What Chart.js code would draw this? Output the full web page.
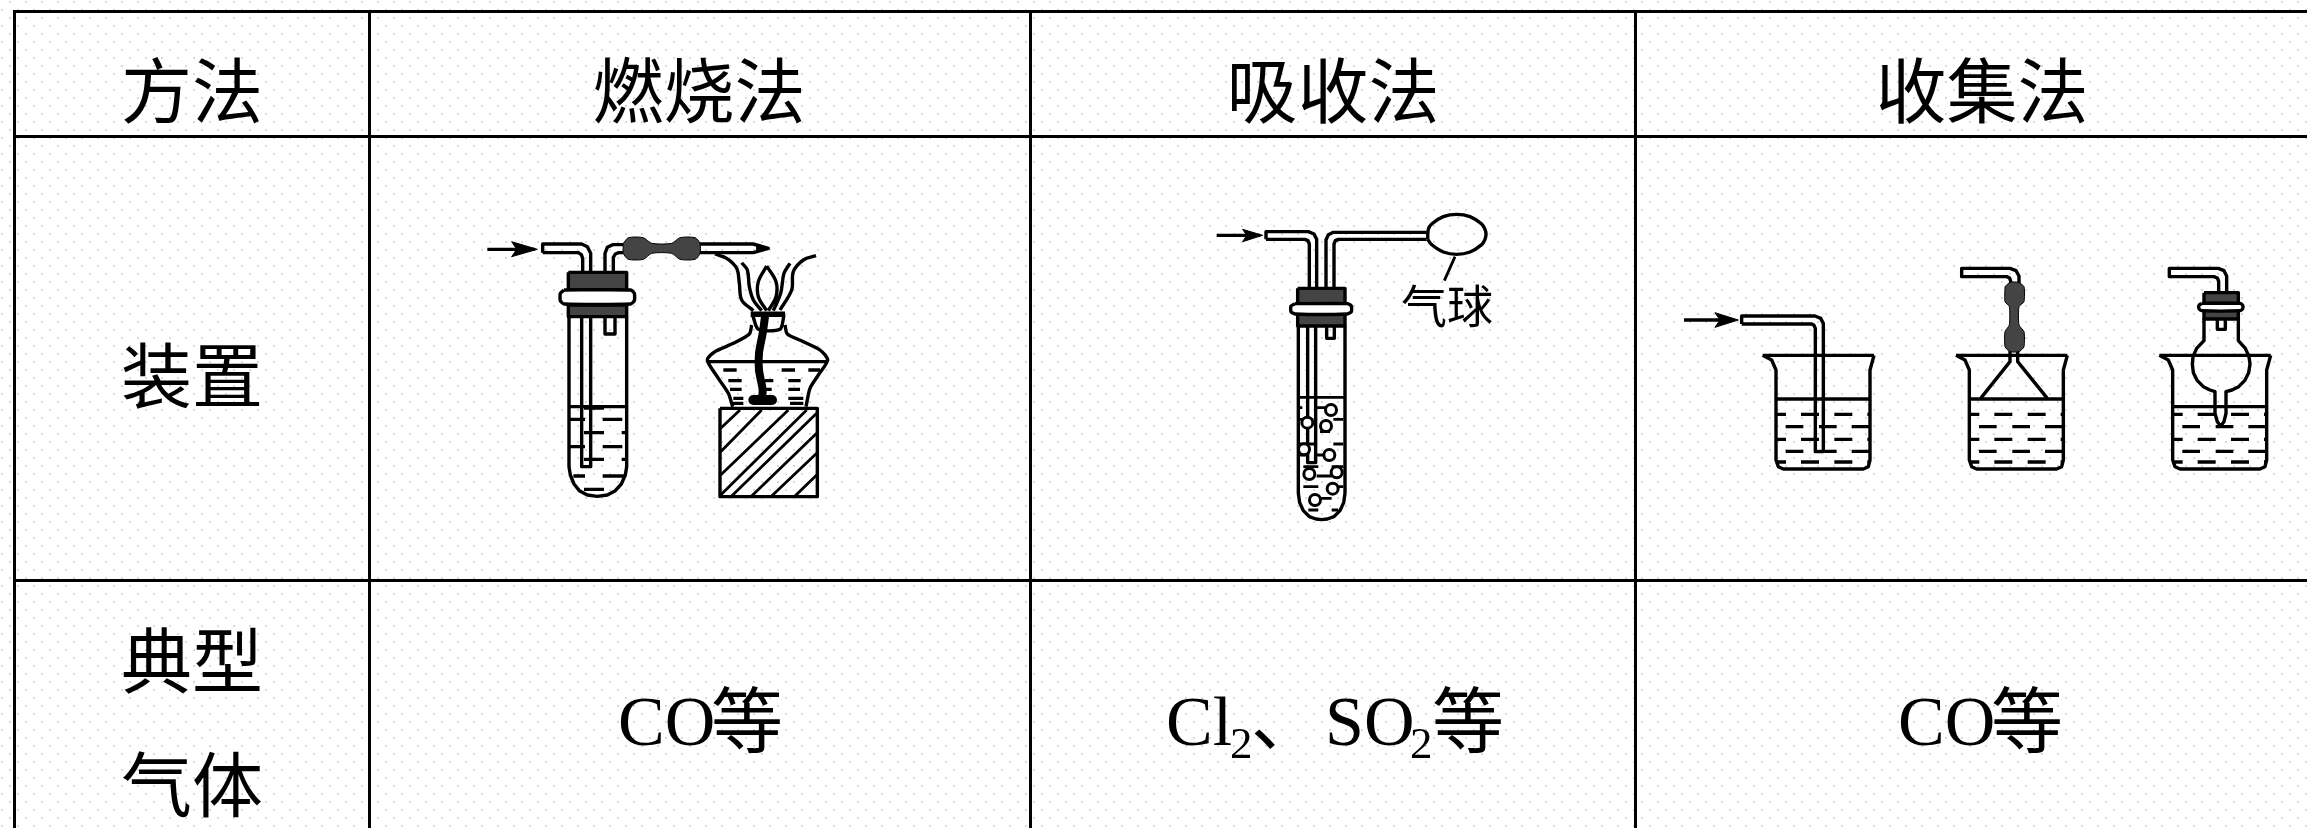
<!DOCTYPE html>
<html lang="zh">
<head>
<meta charset="utf-8">
<title>气体收集方法</title>
<script src="https://cdn.jsdelivr.net/npm/chart.js@4"></script>
<style>
  html, body { margin: 0; padding: 0; background-color: #fff; }
  body {
    width: 2307px; height: 828px; overflow: hidden;
    background-image: url("data:image/svg+xml,%3Csvg xmlns='http://www.w3.org/2000/svg' width='16' height='16'%3E%3Crect x='9' y='1' width='2' height='2' fill='%23d9d9d9'/%3E%3Crect x='1' y='9' width='2' height='2' fill='%23d9d9d9'/%3E%3C/svg%3E");
  }
  canvas { display: block; }
</style>
</head>
<body>
<canvas id="chartTable" width="2307" height="828"></canvas>
<script>
/* --------------------------------------------
   Table text and rules (axis units = pixels)
--------------------------------------------- */
const columnLines = [14.5, 369.5, 1030.5, 1635.5];
const rowLines = [11.5, 136.5, 580.5];

const headerLabels = ["方法", "燃烧法", "吸收法", "收集法"];
const headerX = [192, 699, 1333, 1982];
const headerY = 90;

const sideLabels = ["装置", "典型", "气体"];
const sideX = 192;
const sideY = [375, 660, 784];

const gasRuns = [
  ["CO", 618, 745, 70], ["等", 711, 747, 72],
  ["Cl", 1166, 745, 70], ["2", 1230, 758, 45], ["、", 1251, 745, 70],
  ["SO", 1325, 745, 70], ["2", 1410, 758, 45], ["等", 1432, 747, 72],
  ["CO", 1898, 745, 70], ["等", 1991, 747, 72]
];
const balloonLabel = ["气球", 1447, 306, 46];

/* -------------------------
   Each list is x,y,x,y... in crop units.
------------------------- */
// burner method, crop at 460,210
const burnArrowLine = [[82, 118, 225, 118]];
const burnArrowHead = [155, 95, 232, 118, 155, 140, 170, 118, 155, 95];
const burnTubes = [
  [248, 128, 248, 102, 365, 102, 382, 110, 392, 130, 392, 190],
  [248, 128, 355, 128, 364, 134, 368, 145, 368, 190],
  [435, 190, 435, 130, 442, 112, 458, 104, 490, 104],
  [460, 190, 460, 142, 466, 132, 476, 128, 490, 128],
  [720, 102, 880, 102, 925, 115, 880, 128, 720, 128],
  [365, 320, 365, 770, 392, 770, 392, 320],
  [435, 320, 435, 372, 465, 372, 465, 320],
  [327, 320, 327, 770, 331, 795, 342, 822, 358, 842, 382, 855, 412, 859, 442, 855, 466, 842, 484, 822, 496, 795, 500, 770, 500, 320]
];
const burnLiquid = [
  [330, 590, 497, 590], [372, 594, 432, 594],
  [330, 628, 375, 628], [428, 628, 487, 628],
  [372, 668, 432, 668], [485, 668, 497, 668],
  [330, 710, 375, 710], [428, 710, 487, 710],
  [372, 748, 432, 748], [485, 748, 497, 748],
  [340, 798, 375, 798], [428, 798, 492, 798],
  [372, 838, 432, 838]
];
const burnStopperTop = [325, 187, 500, 187, 500, 240, 325, 240, 325, 187];
const burnStopperLow = [325, 285, 500, 285, 500, 320, 325, 320, 325, 285];
const burnRing = [312, 240, 512, 240, 523, 250, 523, 272, 512, 282, 312, 282, 301, 272, 301, 250, 312, 240];
const burnHose = [490, 100, 505, 83, 550, 83, 575, 100, 635, 100, 660, 83, 705, 83, 720, 100, 720, 130, 705, 148, 660, 148, 635, 130, 575, 130, 550, 148, 505, 148, 490, 130, 490, 100];
const burnTip = [890, 107, 925, 115, 890, 123, 890, 107];
const flameCurves = [
  [765, 132, 800, 145, 830, 175, 838, 220, 845, 270, 880, 302],
  [845, 158, 862, 180, 868, 230, 880, 270, 905, 302],
  [920, 168, 895, 215, 895, 260, 920, 302],
  [920, 168, 948, 215, 948, 260, 925, 302],
  [990, 160, 972, 190, 962, 250, 940, 302],
  [1068, 137, 1030, 150, 1000, 185, 995, 240, 960, 300]
];
const lampBody = [
  [878, 315, 895, 358, 960, 358, 972, 315],
  [875, 345, 868, 372, 820, 400, 765, 425, 742, 450, 775, 505, 805, 550, 818, 590],
  [975, 345, 982, 372, 1030, 395, 1080, 420, 1103, 450, 1075, 495, 1050, 535, 1038, 590]
];
const lampCollar = [[872, 313, 975, 313]];
const lampWick = [[915, 320, 908, 370, 897, 430, 897, 480, 908, 540, 905, 570]];
const lampPool = [[880, 570, 936, 570]];
const lampLiquid = [
  [745, 455, 1100, 455],
  [790, 480, 830, 480], [885, 480, 905, 480], [965, 480, 1005, 480], [1045, 480, 1080, 480],
  [805, 512, 845, 512], [915, 512, 940, 512], [985, 512, 1022, 512],
  [810, 538, 845, 538], [915, 538, 935, 538], [985, 538, 1020, 538],
  [820, 565, 850, 565], [985, 565, 1030, 565],
  [815, 580, 850, 580], [990, 580, 1030, 580]
];
const blockFrame = [[780, 595, 1072, 595, 1072, 860, 780, 860, 780, 595]];
const blockHatch = [
  [782, 655, 840, 600], [782, 725, 905, 600], [782, 795, 985, 600], [782, 855, 1040, 600],
  [815, 858, 1070, 610], [875, 858, 1070, 670], [935, 858, 1070, 730], [1005, 858, 1070, 795]
];

// absorption method, crop at 1200,200
const absArrowLine = [[50, 106, 180, 106]];
const absArrowHead = [128, 88, 188, 106, 128, 125, 140, 106, 128, 88];
const absTubes = [
  [198, 118, 198, 95, 325, 95, 342, 102, 350, 118, 350, 265],
  [198, 118, 315, 118, 324, 122, 328, 132, 328, 265],
  [378, 265, 378, 120, 385, 104, 400, 97, 680, 97],
  [402, 265, 402, 132, 406, 122, 415, 118, 680, 118],
  [323, 378, 323, 788, 347, 788, 347, 378],
  [380, 378, 380, 415, 403, 415, 403, 378],
  [295, 378, 295, 880, 299, 908, 310, 932, 328, 950, 348, 957, 365, 959, 382, 957, 402, 950, 420, 932, 431, 908, 435, 880, 435, 378]
];
const absBalloon = [[683, 118, 685, 88, 695, 72, 730, 50, 770, 43, 810, 50, 845, 72, 855, 88, 858, 103, 855, 118, 845, 134, 810, 156, 770, 163, 730, 156, 695, 134, 683, 118]];
const absLeader = [[765, 170, 733, 242]];
const absStopperTop = [293, 265, 435, 265, 435, 312, 293, 312, 293, 265];
const absStopperLow = [293, 342, 435, 342, 435, 378, 293, 378, 293, 342];
const absRing = [285, 311, 442, 311, 454, 318, 454, 335, 442, 342, 285, 342, 273, 335, 273, 318, 285, 311];
const absLiquid = [
  [295, 592, 435, 592],
  [297, 623, 307, 623], [345, 623, 380, 623],
  [300, 658, 340, 658], [400, 658, 430, 658],
  [360, 695, 390, 695],
  [300, 732, 350, 732], [400, 732, 430, 732],
  [300, 765, 322, 765], [345, 765, 375, 765],
  [310, 800, 355, 800], [395, 800, 430, 800],
  [350, 828, 395, 828],
  [310, 860, 355, 860], [415, 860, 430, 860],
  [360, 895, 395, 895],
  [325, 930, 355, 930], [395, 930, 415, 930]
];
const absBubbleX = [393, 322, 378, 312, 388, 328, 410, 398, 345];
const absBubbleY = [630, 668, 678, 748, 765, 822, 817, 866, 900];

// collection method: three beakers share one outline, crop at 1670,250
const beakerOutline = [
  [278, 316, 612, 316],
  [278, 316, 305, 330, 318, 360, 318, 630, 325, 650, 340, 657, 580, 657, 595, 650, 600, 630, 600, 360, 612, 316]
];
const beakerDashes = [
  [320, 493, 348, 493], [393, 493, 447, 493], [493, 493, 547, 493], [592, 493, 600, 493],
  [347, 530, 400, 530], [447, 530, 500, 530], [545, 530, 598, 530],
  [320, 568, 348, 568], [393, 568, 447, 568], [493, 568, 547, 568], [592, 568, 600, 568],
  [347, 604, 400, 604], [447, 604, 500, 604], [545, 604, 598, 604],
  [320, 636, 348, 636], [393, 636, 447, 636], [493, 636, 547, 636], [592, 636, 600, 636]
];
const beakerSurface = [[318, 447, 600, 447]];
const beakerSurfaceLow = [[318, 470, 600, 470]];

const collectArrowLine = [[42, 210, 190, 210]];
const collectArrowHead = [135, 188, 205, 210, 135, 232, 150, 210, 135, 188];
const collectTube = [
  [215, 222, 215, 198, 435, 198, 452, 205, 460, 220, 460, 605, 436, 605, 436, 235, 432, 226, 425, 222, 215, 222]
];

// crop at 1950,250
const funnelTubes = [
  [35, 55, 180, 55, 198, 62, 207, 78, 207, 100],
  [35, 55, 35, 80, 170, 80, 179, 84, 182, 94, 182, 100],
  [180, 305, 180, 335, 92, 445],
  [203, 305, 203, 335, 292, 445]
];
const funnelHose = [165, 110, 180, 97, 205, 97, 222, 110, 222, 155, 207, 170, 207, 225, 222, 245, 222, 290, 207, 305, 180, 305, 165, 290, 165, 245, 178, 225, 178, 170, 165, 155, 165, 110];
const flaskTubes = [
  [658, 55, 805, 55, 822, 62, 830, 78, 830, 125],
  [658, 55, 658, 80, 792, 80, 802, 84, 806, 94, 806, 125],
  [802, 207, 802, 238, 826, 238, 826, 207]
];
const flaskStopperTop = [762, 128, 865, 128, 865, 160, 762, 160, 762, 128];
const flaskStopperLow = [762, 182, 865, 182, 865, 207, 762, 207, 762, 182];
const flaskRing = [755, 160, 870, 160, 878, 166, 878, 176, 870, 182, 755, 182, 747, 176, 747, 166, 755, 160];
const flaskBulb = [
  [762, 207, 762, 272, 740, 295, 729, 320, 727, 342, 730, 368, 742, 392, 760, 410, 780, 420, 795, 425, 795, 490, 802, 515, 812, 528, 822, 515, 828, 490, 828, 425, 846, 420, 866, 410, 884, 392, 896, 368, 900, 342, 897, 320, 886, 295, 865, 272, 865, 207]
];

/* -------------------------
   Build datasets
------------------------- */
function toPoints(lines, ox, oy) {
  const pts = [];
  lines.forEach(line => {
    for (let i = 0; i < line.length; i += 2) {
      pts.push({ x: ox + line[i] / 3, y: oy + line[i + 1] / 3 });
    }
    // null y breaks the line
    pts.push({ x: ox + line[line.length - 2] / 3, y: null });
  });
  return pts;
}

const datasets = [];
function strokes(lines, ox, oy, width, tension, cap) {
  datasets.push({
    data: toPoints(lines, ox, oy),
    showLine: true,
    borderColor: "#000",
    borderWidth: width,
    tension: tension || 0,
    borderJoinStyle: "round",
    borderCapStyle: cap || "butt",
    pointRadius: 0,
    fill: false
  });
}
function filled(shape, ox, oy, color, width, tension) {
  datasets.push({
    data: toPoints([shape], ox, oy).slice(0, -1),
    showLine: true,
    borderColor: "#000",
    borderWidth: width,
    backgroundColor: color,
    tension: tension || 0,
    borderJoinStyle: "round",
    pointRadius: 0,
    fill: "shape"
  });
}

// table rules
columnLines.forEach(x => datasets.push({
  data: [{ x: x, y: rowLines[0] - 1.5 }, { x: x, y: 828 }],
  showLine: true, borderColor: "#000", borderWidth: 3, pointRadius: 0
}));
rowLines.forEach(y => datasets.push({
  data: [{ x: columnLines[0] - 1.5, y: y }, { x: 2307, y: y }],
  showLine: true, borderColor: "#000", borderWidth: 3, pointRadius: 0
}));

const ink = 3.4;

// burner
strokes(burnLiquid, 460, 210, ink);
strokes(burnTubes, 460, 210, ink);
strokes(burnArrowLine, 460, 210, ink);
filled(burnArrowHead, 460, 210, "#000", 1);
filled(burnStopperTop, 460, 210, "#444", ink);
filled(burnStopperLow, 460, 210, "#444", ink);
filled(burnRing, 460, 210, "#fff", ink, 0.2);
filled(burnHose, 460, 210, "#444", 1, 0.25);
filled(burnTip, 460, 210, "#000", 1);
strokes(flameCurves, 460, 210, ink, 0.35);
strokes(lampBody, 460, 210, ink, 0.25);
strokes(lampCollar, 460, 210, 5.5);
strokes(lampLiquid, 460, 210, ink);
strokes(lampWick, 460, 210, 8, 0.3, "round");
strokes(lampPool, 460, 210, 10, 0, "round");
strokes(blockFrame, 460, 210, ink);
strokes(blockHatch, 460, 210, 2.8);

// absorption
strokes(absLiquid, 1200, 200, 2.8);
strokes(absTubes, 1200, 200, ink);
strokes(absArrowLine, 1200, 200, ink);
filled(absArrowHead, 1200, 200, "#000", 1);
filled(absStopperTop, 1200, 200, "#444", ink);
filled(absStopperLow, 1200, 200, "#444", ink);
filled(absRing, 1200, 200, "#fff", ink, 0.2);
strokes(absBalloon, 1200, 200, ink, 0.4);
strokes(absLeader, 1200, 200, 2.8);
datasets.push({
  data: absBubbleX.map((x, i) => ({ x: 1200 + x / 3, y: 200 + absBubbleY[i] / 3 })),
  showLine: false,
  pointRadius: 5.5,
  pointBorderWidth: 3,
  pointBorderColor: "#000",
  pointBackgroundColor: "#fff"
});

// three beakers
[1670, 1863.33, 2066.67].forEach((ox, i) => {
  strokes(beakerOutline, ox, 250, ink);
  strokes(beakerDashes, ox, 250, ink);
  strokes(i === 2 ? beakerSurfaceLow : beakerSurface, ox, 250, ink);
});
strokes(collectArrowLine, 1670, 250, ink);
filled(collectArrowHead, 1670, 250, "#000", 1);
strokes(collectTube, 1670, 250, ink);
strokes(funnelTubes, 1950, 250, ink);
filled(funnelHose, 1950, 250, "#444", 1, 0.2);
strokes(flaskTubes, 1950, 250, ink);
strokes(flaskBulb, 1950, 250, ink);
filled(flaskStopperTop, 1950, 250, "#444", ink);
filled(flaskStopperLow, 1950, 250, "#444", ink);
filled(flaskRing, 1950, 250, "#fff", ink, 0.2);

// later entries paint on top
datasets.forEach((d, i) => { d.order = -i; });

/* -------------------------
   Table text
------------------------- */
const tableText = {
  id: "tableText",
  afterDatasetsDraw(chart) {
    const { ctx, scales } = chart;
    const px = v => scales.x.getPixelForValue(v);
    const py = v => scales.y.getPixelForValue(v);
    const sans = "'Noto Sans CJK SC', sans-serif";
    const mixed = "'Liberation Serif', 'Noto Sans CJK SC', serif";

    ctx.save();
    ctx.fillStyle = "#000";
    ctx.textAlign = "center";
    ctx.textBaseline = "middle";
    ctx.font = "71px " + sans;
    headerLabels.forEach((t, i) => ctx.fillText(t, px(headerX[i]), py(headerY)));
    sideLabels.forEach((t, i) => ctx.fillText(t, px(sideX), py(sideY[i])));

    ctx.font = balloonLabel[3] + "px " + sans;
    ctx.fillText(balloonLabel[0], px(balloonLabel[1]), py(balloonLabel[2]));

    ctx.textAlign = "left";
    ctx.textBaseline = "alphabetic";
    gasRuns.forEach(r => {
      ctx.font = r[3] + "px " + mixed;
      ctx.fillText(r[0], px(r[1]), py(r[2]));
    });
    ctx.restore();
  }
};

window.chartTable = new Chart(document.getElementById("chartTable"), {
  type: "scatter",
  data: { datasets: datasets },
  plugins: [tableText],
  options: {
    responsive: false,
    animation: false,
    layout: { padding: 0, autoPadding: false },
    plugins: { legend: { display: false }, tooltip: { enabled: false } },
    scales: {
      x: { type: "linear", display: false, min: 0, max: 2307 },
      y: { type: "linear", display: false, min: 0, max: 828, reverse: true }
    }
  }
});
</script>
</body>
</html>
